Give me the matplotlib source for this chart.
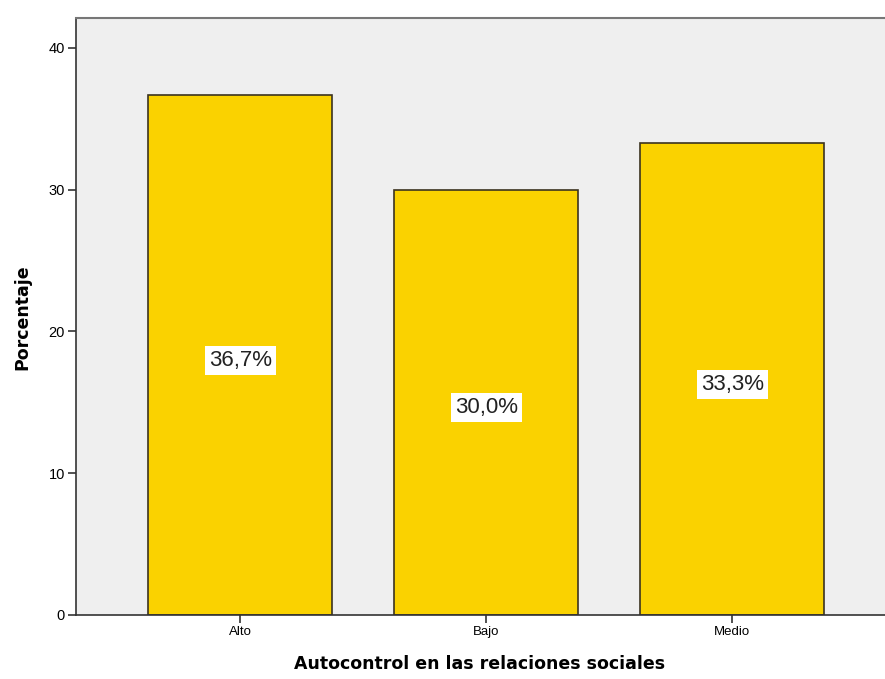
import numpy as np
import matplotlib
matplotlib.use('Agg')
import matplotlib.pyplot as plt


categorias = ['Alto', 'Bajo', 'Medio']
porcentajes = [36.7, 30.0, 33.3]
etiquetas = ['36,7%', '30,0%', '33,3%']
yticks = [0, 10, 20, 30, 40]


def main():

    fig = plt.figure(figsize=(8.85, 6.79), dpi=100)
    W, H = 885., 679.
    # plot area runs off the right edge of the picture
    ax = fig.add_axes([76/W, (H-615)/H, (885-76)/W, (615-18)/H])
    ax.set_facecolor('#efefef')

    x = np.arange(len(categorias))
    ax.bar(x, porcentajes, width=0.748, color='#fad200',
           edgecolor='#3b3320', linewidth=1.2, zorder=2)

    for xi, val, lab in zip(x, porcentajes, etiquetas):
        ax.annotate(lab, (xi, val/2.), xytext=(0, -4), textcoords='offset points',
                    ha='center', va='center', fontsize=16,
                    family='Liberation Sans', color='#222222', zorder=3,
                    bbox=dict(boxstyle='square,pad=0.18', fc='white', ec='none'))

    ax.set_xlim(-0.667, 2.62)
    ax.set_ylim(0, 42.1)
    ax.set_xticks(x)
    ax.set_xticklabels(categorias, family='Liberation Sans', fontsize=9.5)
    ax.set_yticks(yticks)
    ax.set_yticklabels([str(t) for t in yticks], family='Liberation Sans',
                       fontsize=10.5)
    ax.tick_params(axis='both', direction='out', length=6, width=1.2,
                   color='#333333', pad=2)

    ax.spines['right'].set_visible(False)
    ax.spines['top'].set_color('#777777')
    ax.spines['top'].set_linewidth(1.5)
    ax.spines['left'].set_color('#333333')
    ax.spines['left'].set_linewidth(1.2)
    ax.spines['bottom'].set_color('#333333')
    ax.spines['bottom'].set_linewidth(1.2)

    fig.text(22/W, 1-317/H, 'Porcentaje', rotation=90, ha='center',
             va='center', fontsize=12.5, fontweight='bold', family='DejaVu Sans')
    fig.text(480/W, 1-664/H, 'Autocontrol en las relaciones sociales',
             ha='center', va='center', fontsize=12.5, fontweight='bold',
             family='DejaVu Sans')

    fig.savefig('out.png', dpi=100)


if __name__ == "__main__":
    main()
